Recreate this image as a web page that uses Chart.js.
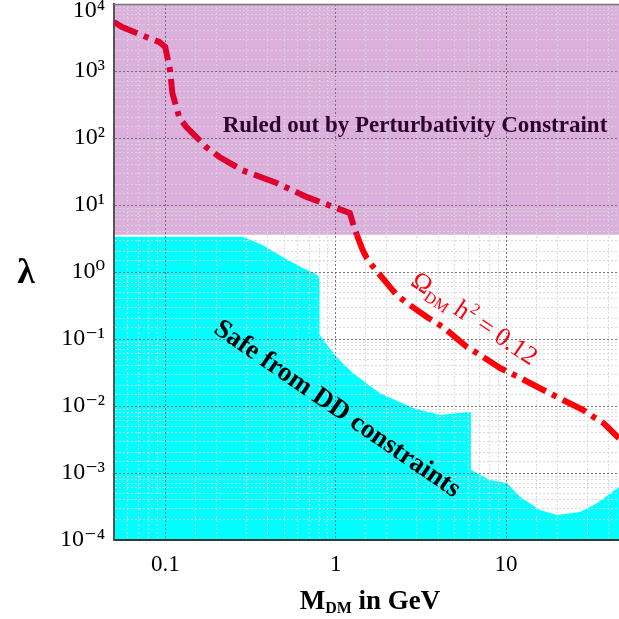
<!DOCTYPE html>
<html>
<head>
<meta charset="utf-8">
<script src="https://cdn.jsdelivr.net/npm/chart.js@4.4.1/dist/chart.umd.min.js"></script>
<style>
  html, body { margin: 0; padding: 0; background: #fff; }
  #wrap { width: 619px; height: 619px; }
</style>
</head>
<body>
<div id="wrap"><canvas id="relic-chart" width="619" height="619"></canvas></div>
<script>
// --- Data ---
// relic density curve (Omega h^2 = 0.12)
const relicMass = [0.05, 0.0558, 0.0773, 0.0922, 0.1, 0.107, 0.11, 0.121, 0.133, 0.174, 0.208, 0.284, 0.45, 0.675,
    1.01, 1.21, 1.26, 1.33, 1.44, 1.52, 1.63, 2.08, 2.28, 2.62, 3.43, 3.82, 4.26, 5.9, 6.31, 7.03, 9.22, 10.6, 12.1,
    17.4, 18.9, 21.6, 28.4, 32.5, 37.2, 46];
const relicLambda = [5400, 4540, 3215, 2710, 2280, 967, 469, 199, 146, 73, 52, 33, 21.3, 13.2,
    9.0, 7.6, 5.4, 3.6, 2.13, 1.62, 1.27, 0.6, 0.454, 0.344, 0.213, 0.179, 0.151, 0.076, 0.0686, 0.0577, 0.0369, 0.0311, 0.0262,
    0.0162, 0.0146, 0.0123, 0.0087, 0.0069, 0.0056, 0.0033];

// upper edge of the region safe from direct detection
const ddMass = [0.05, 0.284, 0.372, 0.488, 0.64, 0.784, 0.805, 0.805, 1.01, 1.26, 1.81, 2.84, 4.09, 5.98, 6.22, 6.22,
    8.05, 10.1, 12.1, 15.8, 19.95, 27.2, 34.3, 46];
const ddLambda = [3.35, 3.35, 2.53, 1.67, 1.15, 0.902, 0.76, 0.115, 0.0539, 0.0311, 0.0156, 0.0093, 0.00734, 0.00813, 0.0081, 0.00111,
    0.000787, 0.00071, 0.000439, 0.000281, 0.000236, 0.000262, 0.000356, 0.000618];

// perturbativity bound
const perturbMass = [0.05, 46];
const perturbLambda = [3.6, 3.6];

// axes
const xRange = [0.05, 46];
const yRange = [1e-4, 1e4];
const xTickLabels = [0.1, 1, 10];
const yTickExponents = [-4, -3, -2, -1, 0, 1, 2, 3, 4];

// --- Helpers ---
const SERIF = "'Liberation Serif', 'DejaVu Serif', serif";
const SUP = { '-': '\u207B', '0': '\u2070', '1': '\u00B9', '2': '\u00B2', '3': '\u00B3', '4': '\u2074',
    '5': '\u2075', '6': '\u2076', '7': '\u2077', '8': '\u2078', '9': '\u2079' };
const toPoints = (xs, ys) => xs.map((x, i) => ({ x: x, y: ys[i] }));
const decade = (v) => {
    const e = Math.log10(v);
    return Math.abs(e - Math.round(e)) < 1e-6 ? Math.round(e) : null;
};
const supText = (n) => String(n).split('').map(c => SUP[c]).join('');

// draw a run of text pieces (for sub/superscripts) centred on (x, y)
function drawRich(ctx, parts, x, y, angle, color) {
    ctx.save();
    ctx.translate(x, y);
    ctx.rotate(angle);
    ctx.fillStyle = color;
    ctx.textBaseline = 'alphabetic';
    ctx.textAlign = 'left';
    let total = 0;
    parts.forEach(p => {
        ctx.font = `${p.weight || 'normal'} ${p.size}px ${SERIF}`;
        p.w = ctx.measureText(p.t).width;
        total += p.w;
    });
    let cx = -total / 2;
    parts.forEach(p => {
        ctx.font = `${p.weight || 'normal'} ${p.size}px ${SERIF}`;
        ctx.fillText(p.t, cx, p.dy || 0);
        cx += p.w;
    });
    ctx.restore();
}

const annotations = {
    id: 'annotations',
    afterDraw(chart) {
        const ctx = chart.ctx;
        const area = chart.chartArea;

        // top frame line
        ctx.save();
        ctx.strokeStyle = '#777';
        ctx.lineWidth = 1.5;
        ctx.beginPath();
        ctx.moveTo(area.left, area.top + 0.5);
        ctx.lineTo(area.right, area.top + 0.5);
        ctx.stroke();
        ctx.restore();

        drawRich(ctx, [{ t: 'Ruled out by Perturbativity Constraint', size: 23, weight: 'bold' }], 415, 132, 0, '#2c022e');
        drawRich(ctx, [{ t: 'Safe from DD constraints', size: 27, weight: 'bold' }], 333, 415, 34.5 * Math.PI / 180, '#000');
        drawRich(ctx, [
            { t: '\u03A9', size: 26 },
            { t: 'DM', size: 16, dy: 5 },
            { t: ' h', size: 26 },
            { t: '2', size: 16, dy: -11 },
            { t: ' = 0.12', size: 26 }
        ], 470, 325, 34 * Math.PI / 180, '#ff0010');

        // axis titles
        drawRich(ctx, [
            { t: 'M', size: 27, weight: 'bold' },
            { t: 'DM', size: 16, dy: 4, weight: 'bold' },
            { t: ' in GeV', size: 27, weight: 'bold' }
        ], 370, 609, 0, '#000');
        drawRich(ctx, [{ t: '\u03BB', size: 36, weight: 'bold' }], 26, 283, 0, '#000');
    }
};

document.addEventListener('DOMContentLoaded', function () {
    const ctx = document.getElementById('relic-chart').getContext('2d');
    const majorGrid = 'rgba(105,105,105,0.9)';
    const minorGrid = 'rgba(215,215,215,0.9)';
    const inBand = 'rgb(222,0,46)';
    const outBand = '#ff0008';

    new Chart(ctx, {
        type: 'line',
        data: {
            datasets: [
                {
                    label: 'relic',
                    data: toPoints(relicMass, relicLambda),
                    borderColor: outBand,
                    segment: {
                        borderColor: c => (c.p0.parsed.y >= perturbLambda[0] && c.p1.parsed.y >= perturbLambda[0]) ? inBand : outBand
                    },
                    borderWidth: 6,
                    borderDash: [26, 7, 5, 7],
                    borderCapStyle: 'butt',
                    pointRadius: 0,
                    fill: false,
                    order: 0
                },
                {
                    label: 'perturbativity',
                    data: toPoints(perturbMass, perturbLambda),
                    borderWidth: 0,
                    pointRadius: 0,
                    backgroundColor: 'rgb(220,176,220)',
                    fill: 'end',
                    order: 1
                },
                {
                    label: 'dd safe',
                    data: toPoints(ddMass, ddLambda),
                    borderWidth: 0,
                    pointRadius: 0,
                    backgroundColor: '#00ffff',
                    fill: 'start',
                    order: 2
                }
            ]
        },
        options: {
            responsive: false,
            animation: false,
            devicePixelRatio: 1,
            layout: { padding: { top: 4, right: 0, left: 0, bottom: 0 } },
            plugins: {
                legend: { display: false },
                tooltip: { enabled: false },
                filler: { drawTime: 'beforeDraw' }
            },
            scales: {
                x: {
                    type: 'logarithmic',
                    min: xRange[0],
                    max: xRange[1],
                    afterFit(scale) {
                        scale.height = 79;
                        scale.paddingLeft = 0;
                        scale.paddingRight = 0;
                    },
                    grid: {
                        drawTicks: false,
                        color: c => (c.tick && decade(c.tick.value) !== null) ? majorGrid : minorGrid
                    },
                    border: { display: true, color: '#2d3b3b', width: 2, dash: [2, 2] },
                    ticks: {
                        autoSkip: false,
                        maxRotation: 0,
                        padding: 11,
                        color: '#000',
                        font: { family: SERIF, size: 23 },
                        callback: (v) => xTickLabels.includes(Number(v.toPrecision(6))) ? String(Number(v.toPrecision(6))) : ''
                    }
                },
                y: {
                    type: 'logarithmic',
                    min: yRange[0],
                    max: yRange[1],
                    afterFit(scale) {
                        scale.width = 114;
                        scale.paddingTop = 0;
                        scale.paddingBottom = 0;
                    },
                    grid: {
                        drawTicks: false,
                        color: c => (c.tick && decade(c.tick.value) !== null) ? majorGrid : minorGrid
                    },
                    border: { display: true, color: '#555', width: 2, dash: [2, 2] },
                    ticks: {
                        autoSkip: false,
                        padding: 9,
                        color: '#000',
                        font: c => ({
                            family: SERIF,
                            size: 24,
                            lineHeight: (c.tick && decade(c.tick.value) === yTickExponents[yTickExponents.length - 1]) ? 0.6 : 1.2
                        }),
                        callback: (v) => {
                            const e = decade(v);
                            if (e === null || !yTickExponents.includes(e)) return '';
                            const s = '10' + supText(e);
                            return e === yTickExponents[yTickExponents.length - 1] ? ['', s] : s;
                        }
                    }
                }
            }
        },
        plugins: [annotations]
    });
});
</script>
</body>
</html>
